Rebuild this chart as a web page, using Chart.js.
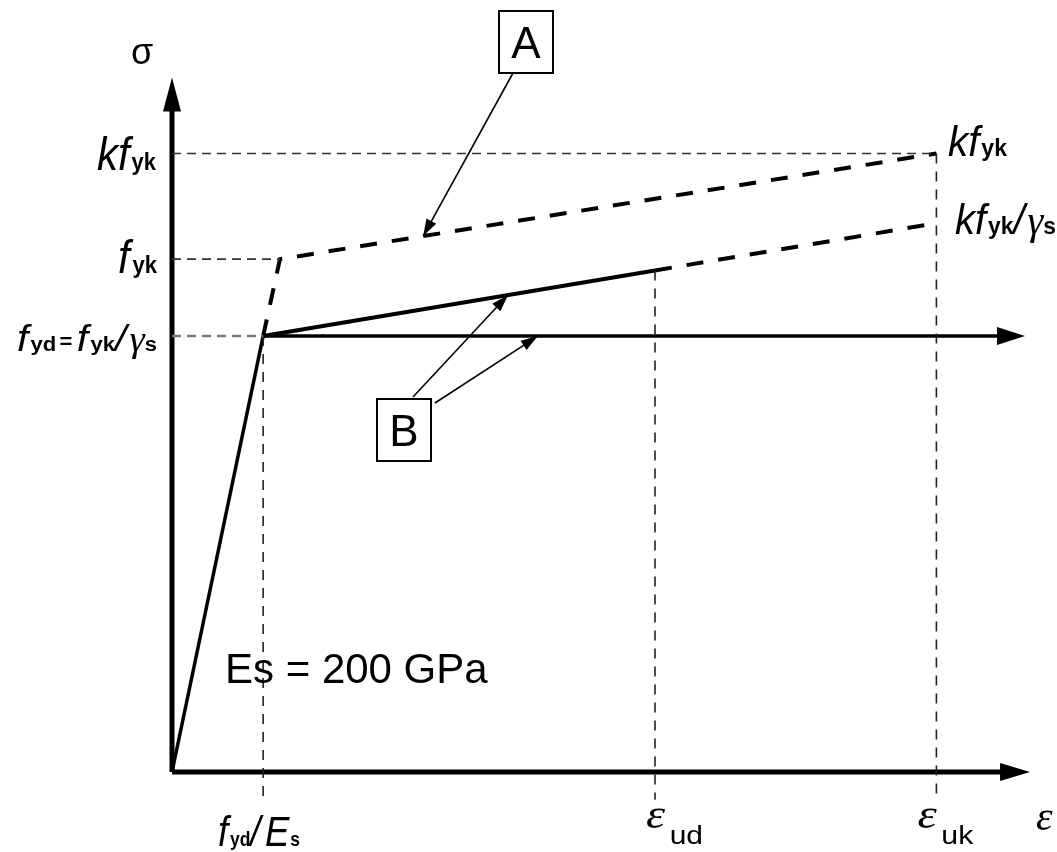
<!DOCTYPE html>
<html>
<head>
<meta charset="utf-8">
<title>Stress-strain diagram, reinforcing steel</title>
<script src="https://cdn.jsdelivr.net/npm/chart.js@4.4.1/dist/chart.umd.min.js"></script>
<style>
  html, body { margin: 0; padding: 0; background: #fff; }
  canvas { display: block; }
</style>
</head>
<body>
<canvas id="steelChart" width="1057" height="852"></canvas>
<script>
// strain in per mille, stress in MPa
const elasticX = [0, 2.17];
const elasticY = [0, 425];
const curveAX = [2.17, 2.57, 18.2];          // characteristic (dashed)
const curveAY = [425, 500, 603];
const curveBIncX = [2.17, 11.5];             // design, inclined branch
const curveBIncY = [425, 489];
const curveBExtX = [11.5, 18.2];             // inclined branch beyond eps_ud
const curveBExtY = [489, 535];
const curveBHorX = [2.17, 19.65];            // design, horizontal branch
const curveBHorY = [425, 425];

const stressRefs = [425, 500, 603];          // fyd, fyk, k*fyk
const stressRefEnds = [2.17, 2.57, 18.2];
const strainRefs = [2.17, 11.5, 18.2];       // fyd/Es, eps_ud, eps_uk
const strainRefTops = [425, 489, 603];
const refBottom = -27;

const axisEnds = [20.43, 677];               // arrow tips of x and y axes
const horArrowTip = 20.31;

const pts = (xs, ys) => xs.map((v, i) => ({ x: v, y: ys[i] }));

function lineSet(data, width, dash, color) {
  return {
    data: data,
    borderColor: color || '#000',
    borderWidth: width,
    borderDash: dash || [],
    borderCapStyle: 'butt',
    pointRadius: 0,
    tension: 0,
    fill: false,
    clip: false
  };
}

const datasets = [];
// dashed reference lines
stressRefs.forEach((s, i) => {
  const grey = i === 0 ? '#777' : '#333';
  datasets.push(lineSet([{ x: 0, y: s }, { x: stressRefEnds[i], y: s }], i === 0 ? 2.5 : 1.6, [9, 6], grey));
});
strainRefs.forEach((e, i) => {
  datasets.push(lineSet([{ x: e, y: strainRefTops[i] }, { x: e, y: refBottom }], 1.6, [10, 8], '#222'));
});
// axes
datasets.push(lineSet([{ x: 0, y: 0 }, { x: axisEnds[0] - 0.6, y: 0 }], 5));
datasets.push(lineSet([{ x: 0, y: 0 }, { x: 0, y: axisEnds[1] - 30 }], 5));
// curves
datasets.push(lineSet(pts(curveAX, curveAY), 4, [17, 15]));
datasets.push(lineSet(pts(curveBExtX, curveBExtY), 4, [17, 15]));
datasets.push(lineSet(pts(elasticX, elasticY), 3.5));
datasets.push(lineSet(pts(curveBIncX, curveBIncY), 4));
datasets.push(lineSet(pts(curveBHorX, curveBHorY), 3.5));

function interp(xs, ys, v) {
  for (let i = 0; i < xs.length - 1; i++) {
    if (v >= xs[i] && v <= xs[i + 1]) {
      return ys[i] + (ys[i + 1] - ys[i]) * (v - xs[i]) / (xs[i + 1] - xs[i]);
    }
  }
  return ys[ys.length - 1];
}

function arrowHead(ctx, fx, fy, tx, ty, len, half) {
  const a = Math.atan2(ty - fy, tx - fx);
  const bx = tx - len * Math.cos(a), by = ty - len * Math.sin(a);
  ctx.beginPath();
  ctx.moveTo(tx, ty);
  ctx.lineTo(bx + half * Math.sin(a), by - half * Math.cos(a));
  ctx.lineTo(bx - half * Math.sin(a), by + half * Math.cos(a));
  ctx.closePath();
  ctx.fill();
}

function pointer(ctx, fx, fy, tx, ty) {
  ctx.beginPath();
  ctx.lineWidth = 1.6;
  ctx.moveTo(fx, fy);
  ctx.lineTo(tx, ty);
  ctx.stroke();
  arrowHead(ctx, fx, fy, tx, ty, 17, 5.5);
}

// draws runs of differently styled text, squeezed to a given width
function rich(ctx, x0, x1, base, parts) {
  let w = 0;
  parts.forEach(p => { ctx.font = p[1]; w += ctx.measureText(p[0]).width + (p[3] || 0); });
  const sx = (x1 - x0) / w;
  ctx.save();
  ctx.translate(x0, base);
  ctx.scale(sx, 1);
  let cx = 0;
  parts.forEach(p => {
    ctx.font = p[1];
    ctx.fillText(p[0], cx, p[2] || 0);
    cx += ctx.measureText(p[0]).width + (p[3] || 0);
  });
  ctx.restore();
}

const IT = 'italic 46px "Liberation Sans", sans-serif';
const IT2 = 'italic 42px "Liberation Sans", sans-serif';
const IT3 = 'italic 37px "Liberation Sans", sans-serif';
const SUB = 'bold 24px "Liberation Sans", sans-serif';
const SUB2 = 'bold 20px "Liberation Sans", sans-serif';
const SUBR = '26px "Liberation Sans", sans-serif';
const GR = 'italic 42px "Liberation Serif", "DejaVu Serif", serif';
const GR2 = 'italic 35px "Liberation Serif", "DejaVu Serif", serif';

const diagramText = {
  id: 'diagramText',
  afterDatasetsDraw(chart) {
    const { ctx, scales: { x, y } } = chart;
    const px = v => x.getPixelForValue(v), py = v => y.getPixelForValue(v);
    ctx.save();
    ctx.fillStyle = '#000';
    ctx.strokeStyle = '#000';

    // axis and branch arrowheads
    arrowHead(ctx, px(0), py(0), px(axisEnds[0]), py(0), 30, 9);
    arrowHead(ctx, px(0), py(0), px(0), py(axisEnds[1]), 34, 9);
    arrowHead(ctx, px(0), py(curveBHorY[0]), px(horArrowTip), py(curveBHorY[0]), 28, 9);

    // boxed callouts
    ctx.lineWidth = 2;
    ctx.strokeRect(499, 11, 54, 62);
    ctx.strokeRect(377, 399, 54, 62);
    ctx.font = '44px "Liberation Sans", Arial, sans-serif';
    ctx.textAlign = 'center';
    ctx.textBaseline = 'alphabetic';
    ctx.fillText('A', 526, 58);
    ctx.fillText('B', 404, 446);
    ctx.textAlign = 'left';

    const tipA = 5.98, tipB1 = 8.0, tipB2 = 8.71;
    pointer(ctx, 513, 73, px(tipA), py(interp(curveAX, curveAY, tipA)));
    pointer(ctx, 413, 397, px(tipB1), py(interp(curveBIncX, curveBIncY, tipB1)));
    pointer(ctx, 435, 403, px(tipB2), py(curveBHorY[0]));

    // stress labels
    ctx.font = '36px "Liberation Sans", sans-serif';
    ctx.fillText('\u03C3', 131, 64);
    rich(ctx, 97, 156, py(stressRefs[2]) + 17, [['kf', IT, 0, 2], ['yk', SUB]]);
    rich(ctx, 118, 157, py(stressRefs[1]) + 14, [['f', IT, 0, 3], ['yk', SUB, 0]]);
    rich(ctx, 17, 157, py(stressRefs[0]) + 15,
      [['f', IT3, 0, 2], ['yd', SUB2, 0, 3], ['=', SUB2, -3, 4], ['f', IT3, 0, 2], ['yk', SUB2, 0],
       ['/', IT3, 0, 3], ['\u03B3', GR2], ['s', SUB2]]);
    rich(ctx, 948, 1007, py(stressRefs[2]) + 3, [['kf', IT2, 0, 2], ['yk', SUB]]);
    rich(ctx, 955, 1056, py(curveBExtY[1]) + 11, [['kf', IT2, 0, 2], ['yk', SUB], ['/', IT2, 0, 3], ['\u03B3', GR], ['s', SUB]]);

    // strain labels
    rich(ctx, 218, 300, 846, [['f', IT2, 0, 2], ['yd', SUB2, 0], ['/', IT2, 0, 5], ['E', IT2, 0, 1], ['s', SUB2]]);
    rich(ctx, px(strainRefs[1]) - 9, px(strainRefs[1]) + 48, 844, [['\u03B5', GR, -16, 4], ['ud', SUBR]]);
    rich(ctx, px(strainRefs[2]) - 19, px(strainRefs[2]) + 37, 844, [['\u03B5', GR, -16, 4], ['uk', SUBR]]);
    ctx.font = GR;
    ctx.fillText('\u03B5', 1036, 830);

    ctx.font = '42px "Liberation Sans", Arial, sans-serif';
    ctx.fillText('Es = 200 GPa', 225, 683);
    ctx.restore();
  }
};

new Chart(document.getElementById('steelChart'), {
  type: 'line',
  data: { datasets: datasets },
  options: {
    responsive: false,
    animation: false,
    events: [],
    layout: { padding: { left: 172, right: 3, top: 54, bottom: 80 } },
    scales: {
      x: { type: 'linear', min: 0, max: 21, display: false },
      y: { type: 'linear', min: 0, max: 700, display: false }
    },
    plugins: { legend: { display: false }, tooltip: { enabled: false } }
  },
  plugins: [diagramText]
});
</script>
</body>
</html>
